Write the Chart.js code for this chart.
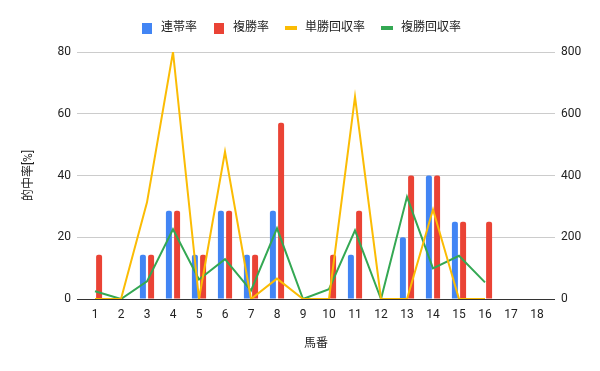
<!DOCTYPE html>
<html>
<head>
<meta charset="utf-8">
<script src="https://cdn.jsdelivr.net/npm/chart.js@4.4.1/dist/chart.umd.min.js"></script>
<style>
html,body{margin:0;padding:0;background:#fff;}
canvas{display:block;}
</style>
</head>
<body>
<canvas id="c" width="600" height="371"></canvas>
<script>
// ---- data ----
const categories = ['1','2','3','4','5','6','7','8','9','10','11','12','13','14','15','16','17','18'];
const rentaiRate   = [0, 0, 14.3, 28.6, 14.3, 28.6, 14.3, 28.6, 0, 0, 14.3, 0, 20, 40, 25, 0, 0, 0];
const fukushoRate  = [14.3, 0, 14.3, 28.6, 14.3, 28.6, 14.3, 57.1, 0, 14.3, 28.6, 0, 40, 40, 25, 25, 0, 0];
const tanshoReturn = [0, 0, 313, 800, 0, 477, 0, 66, 0, 0, 655, 0, 0, 290, 0, 0, null, null];
const fukushoReturn= [25, 0, 57, 226, 63, 129, 27, 229, 0, 32, 222, 0, 331, 99, 140, 54, null, null];
const seriesNames  = ['連帯率', '複勝率', '単勝回収率', '複勝回収率'];
const leftAxisTitle = '的中率[%]';
const bottomAxisTitle = '馬番';

const COLORS = ['#4285F4', '#EA4335', '#FBBC04', '#34A853'];
const FONT = "Roboto, 'Noto Sans CJK JP', sans-serif";
Chart.defaults.font.family = FONT;
Chart.defaults.font.size = 12;
Chart.defaults.color = '#222';

function swatch(color, w, h) {
  const c = document.createElement('canvas');
  c.width = w; c.height = h;
  const g = c.getContext('2d');
  g.fillStyle = color;
  g.fillRect(0, 0, w, h);
  return c;
}
const legendImgs = [
  swatch(COLORS[0], 10, 11),
  swatch(COLORS[1], 10, 11),
  swatch(COLORS[2], 12, 4),
  swatch(COLORS[3], 12, 4)
];

const gridColor = ctx => (ctx.tick && ctx.tick.value === 0) ? '#333333' : '#cccccc';

const legendSpacer = {
  id: 'legendSpacer',
  beforeInit(chart) {
    const lg = chart.legend;
    if (lg && !lg._patched) {
      const orig = lg.fit;
      lg.fit = function() { orig.call(this); this.height += 8; };
      lg._patched = true;
    }
  }
};

new Chart(document.getElementById('c'), {
  type: 'bar',
  data: {
    labels: categories,
    datasets: [
      { type: 'bar', label: seriesNames[0], data: rentaiRate, backgroundColor: COLORS[0], yAxisID: 'y', order: 2,
        categoryPercentage: 0.63, barPercentage: 0.73, borderRadius: {topLeft: 2, topRight: 2}, borderSkipped: 'bottom' },
      { type: 'bar', label: seriesNames[1], data: fukushoRate, backgroundColor: COLORS[1], yAxisID: 'y', order: 2,
        categoryPercentage: 0.63, barPercentage: 0.73, borderRadius: {topLeft: 2, topRight: 2}, borderSkipped: 'bottom' },
      { type: 'line', label: seriesNames[2], data: tanshoReturn, borderColor: COLORS[2], backgroundColor: COLORS[2],
        borderWidth: 2, pointRadius: 0, tension: 0, yAxisID: 'y1', order: 1, spanGaps: false },
      { type: 'line', label: seriesNames[3], data: fukushoReturn, borderColor: COLORS[3], backgroundColor: COLORS[3],
        borderWidth: 2, pointRadius: 0, tension: 0, yAxisID: 'y1', order: 1, spanGaps: false }
    ]
  },
  options: {
    responsive: false,
    animation: false,
    devicePixelRatio: 1,
    layout: { padding: { top: 8, left: 0, right: 0, bottom: 0 } },
    plugins: {
      tooltip: { enabled: false },
      legend: {
        position: 'top',
        align: 'center',
        labels: {
          usePointStyle: true,
          pointStyleWidth: 16,
          padding: 14,
          color: '#222',
          font: { size: 12, family: FONT },
          generateLabels(chart) {
            const items = Chart.defaults.plugins.legend.labels.generateLabels(chart);
            items.sort((a, b) => a.datasetIndex - b.datasetIndex);
            items.forEach(it => { it.pointStyle = legendImgs[it.datasetIndex]; });
            return items;
          }
        }
      }
    },
    scales: {
      x: {
        type: 'category',
        grid: { display: false },
        border: { display: false },
        ticks: { color: '#222', font: { size: 12 }, padding: 1, maxRotation: 0, autoSkip: false },
        title: { display: true, text: bottomAxisTitle, color: '#222', font: { size: 12 }, padding: { top: 0, bottom: 20 } },
        afterFit(s) { s.height = 72; }
      },
      y: {
        position: 'left',
        min: 0, max: 80,
        ticks: { stepSize: 20, color: '#222', font: { size: 12 }, padding: 6 },
        grid: { color: gridColor, tickColor: gridColor, drawTicks: true, tickLength: 5, lineWidth: 1 },
        border: { display: false },
        title: { display: true, text: leftAxisTitle, color: '#222', font: { size: 12 }, padding: { top: 22, bottom: 0 } },
        afterFit(s) { s.width = 82; }
      },
      y1: {
        position: 'right',
        min: 0, max: 800,
        ticks: { stepSize: 200, color: '#222', font: { size: 12 }, padding: 6 },
        grid: { drawOnChartArea: false, color: gridColor, tickColor: gridColor, drawTicks: true, tickLength: 5, lineWidth: 1 },
        border: { display: false },
        afterFit(s) { s.width = 50; }
      }
    }
  },
  plugins: [legendSpacer]
});
</script>
</body>
</html>
